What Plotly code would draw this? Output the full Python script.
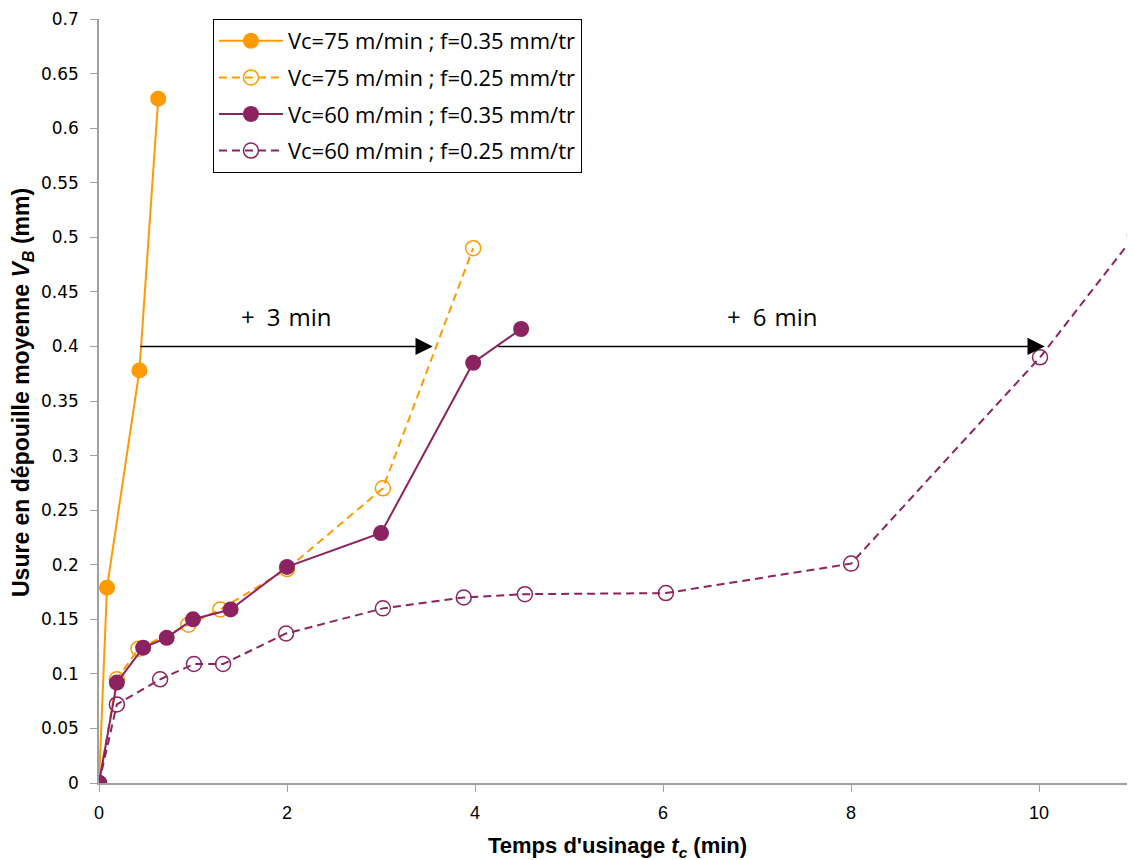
import plotly.graph_objects as go

# ---- data ----
t_75_035 = [0, 0.085, 0.43, 0.63]
vb_75_035 = [0, 0.179, 0.378, 0.627]

t_75_025 = [0, 0.19, 0.42, 0.95, 1.29, 2.0, 3.02, 3.98]
vb_75_025 = [0, 0.095, 0.123, 0.145, 0.159, 0.196, 0.270, 0.490]

t_60_035 = [0, 0.19, 0.47, 0.72, 1.0, 1.40, 2.0, 3.0, 3.98, 4.49]
vb_60_035 = [0, 0.092, 0.124, 0.133, 0.150, 0.159, 0.198, 0.229, 0.385, 0.416]

t_60_025 = [0, 0.19, 0.65, 1.01, 1.32, 1.99, 3.02, 3.88, 4.53, 6.03, 8.0, 10.01, 11.02]
vb_60_025 = [0, 0.072, 0.095, 0.109, 0.109, 0.137, 0.160, 0.170, 0.173, 0.174, 0.201, 0.390, 0.502]

names = ["Vc=75 m/min ; f=0.35 mm/tr", "Vc=75 m/min ; f=0.25 mm/tr",
         "Vc=60 m/min ; f=0.35 mm/tr", "Vc=60 m/min ; f=0.25 mm/tr"]

y_tick_vals = [0, 0.05, 0.1, 0.15, 0.2, 0.25, 0.3, 0.35, 0.4, 0.45, 0.5, 0.55, 0.6, 0.65, 0.7]
y_tick_text = ["0", "0.05", "0.1", "0.15", "0.2", "0.25", "0.3", "0.35", "0.4", "0.45",
               "0.5", "0.55", "0.6", "0.65", "0.7"]
x_tick_vals = [0, 2, 4, 6, 8, 10]

arrow_starts_x = [0.425, 4.23]
arrow_ends_x = [3.55, 10.06]
arrow_y = [0.4, 0.4]
arrow_labels = ["+\u20023\u2004min", "+\u20026\u2004min"]
arrow_label_x = [1.99, 7.16]
arrow_label_y = [0.427, 0.427]

ORANGE = "#FF9A00"
PURPLE = "#8C2360"
DASH = "8px,5px"
TXT_FONT = "Open Sans, Lato, sans-serif"
TITLE_FONT = "Liberation Sans Narrow, Arial Narrow, sans-serif"

fig = go.Figure()
fig.add_trace(go.Scatter(x=t_75_035, y=vb_75_035, name=names[0], mode="lines+markers",
                         line=dict(color=ORANGE, width=2),
                         marker=dict(symbol="circle", size=16, color=ORANGE),
                         legendgroup="a"))
fig.add_trace(go.Scatter(x=t_75_025, y=vb_75_025, name=names[1], mode="lines+markers",
                         line=dict(color=ORANGE, width=2, dash=DASH),
                         marker=dict(symbol="circle-open", size=15, color=ORANGE, line=dict(width=1.5)),
                         legendgroup="b"))
fig.add_trace(go.Scatter(x=t_60_035, y=vb_60_035, name=names[2], mode="lines+markers",
                         line=dict(color=PURPLE, width=2),
                         marker=dict(symbol="circle", size=16, color=PURPLE),
                         legendgroup="c"))
fig.add_trace(go.Scatter(x=t_60_025, y=vb_60_025, name=names[3], mode="lines+markers",
                         line=dict(color=PURPLE, width=2, dash=DASH),
                         marker=dict(symbol="circle-open", size=15, color=PURPLE, line=dict(width=1.5)),
                         legendgroup="d"))

annotations = []
for sx, ex, yy in zip(arrow_starts_x, arrow_ends_x, arrow_y):
    annotations.append(dict(x=ex, y=yy, ax=sx, ay=yy, xref="x", yref="y", axref="x", ayref="y",
                            showarrow=True, arrowhead=2, arrowsize=2.3, arrowwidth=1.5,
                            arrowcolor="black", text=""))
for lx, ly, txt in zip(arrow_label_x, arrow_label_y, arrow_labels):
    annotations.append(dict(x=lx, y=ly, xref="x", yref="y", text=txt, showarrow=False,
                            font=dict(family=TXT_FONT, size=24, color="black")))

annotations.append(dict(x=0, y=0.5, xref="paper", yref="paper", xanchor="center", yanchor="middle",
                        xshift=-77, yshift=8, textangle=-90, showarrow=False,
                        text="<b>Usure en dépouille moyenne <i>V</i><sub><i>B</i></sub> (mm)</b>",
                        font=dict(family=TITLE_FONT, size=23, color="black")))
annotations.append(dict(x=0.5, y=0, xref="paper", yref="paper", xanchor="center", yanchor="middle",
                        yshift=-64, showarrow=False,
                        text="<b>Temps d'usinage <i>t</i><sub><i>c</i></sub> (min)</b>",
                        font=dict(family=TITLE_FONT, size=22, color="black")))

# page body adds an 8px offset; figure sized so the plot lands where the reference has it
fig.update_layout(
    width=1127, height=852,
    margin=dict(l=91, r=0, t=11, b=77, autoexpand=False),
    paper_bgcolor="white", plot_bgcolor="white",
    showlegend=True,
    legend=dict(x=0.1100, y=1.0, xanchor="left", yanchor="top",
                bordercolor="black", borderwidth=1, bgcolor="white",
                font=dict(family=TXT_FONT, size=22, color="black"),
                itemwidth=64,
                tracegroupgap=5, traceorder="grouped"),
    annotations=annotations,
    xaxis=dict(range=[0, 11.02], tickvals=x_tick_vals, showgrid=False, zeroline=False,
               showline=True, linecolor="#A0A0A0", linewidth=1.5, ticks="outside",
               ticklen=7, tickcolor="#A0A0A0", ticklabelstandoff=6,
               tickfont=dict(family=TITLE_FONT, size=18, color="black")),
    yaxis=dict(range=[0, 0.7], tickvals=y_tick_vals, ticktext=y_tick_text, showgrid=False,
               zeroline=False, showline=True, linecolor="#A0A0A0", linewidth=1.5,
               ticks="outside", ticklen=7, tickcolor="#A0A0A0", ticklabelstandoff=8,
               tickfont=dict(family="DejaVu Sans, sans-serif", size=17, color="black")),
)

fig.write_html("out.html")
